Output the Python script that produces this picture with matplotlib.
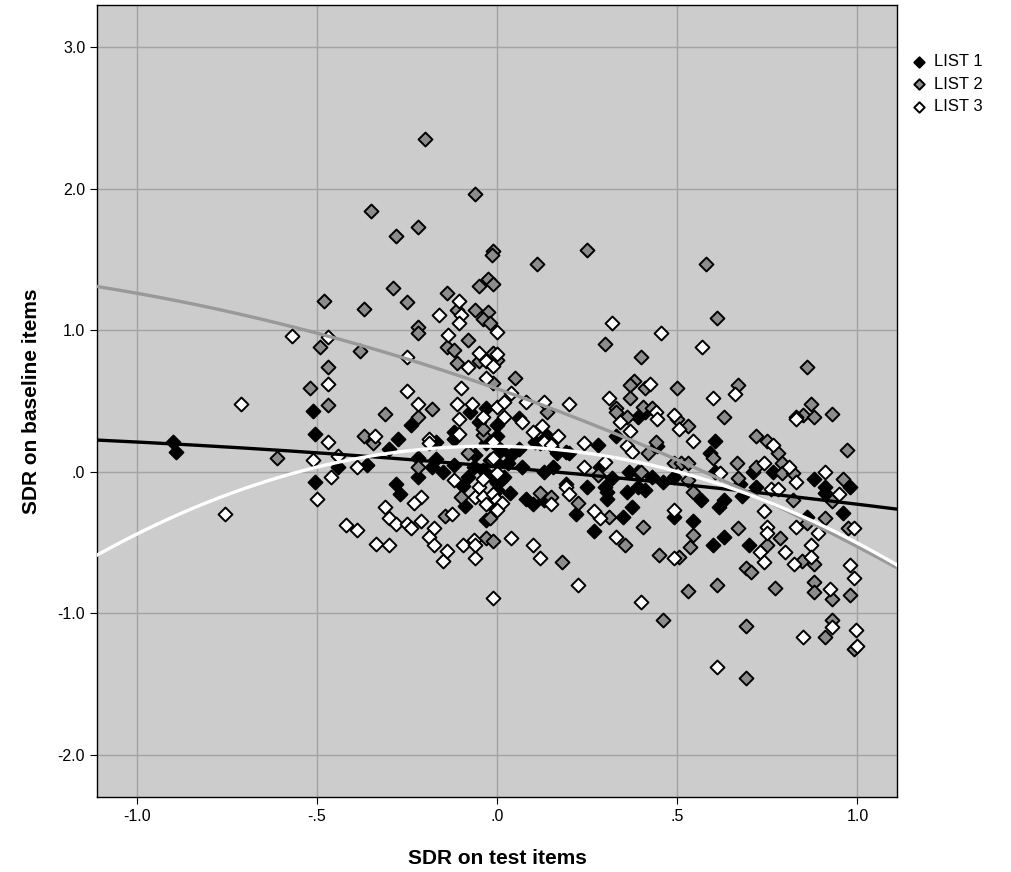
import numpy as np
import matplotlib
matplotlib.use("Agg")
import matplotlib.pyplot as plt

plt.rcParams['font.family'] = ['Liberation Sans', 'DejaVu Sans']

# LIST 1 (black)
list1 = [(-0.90, 0.21), (-0.89, 0.14),
         (-0.51, 0.43), (-0.505, 0.27), (-0.505, -0.07), (-0.44, 0.035), (-0.36, 0.05), (-0.275, 0.23),
         (-0.30, 0.16), (-0.24, 0.33), (-0.28, -0.085), (-0.27, -0.155), (-0.22, 0.10), (-0.22, -0.035),
         (-0.17, 0.09), (-0.18, 0.035), (-0.15, 0.0), (-0.17, 0.21), (-0.12, 0.23), (-0.12, 0.05),
         (-0.095, -0.10), (-0.09, -0.24), (-0.08, -0.04), (-0.075, 0.42), (-0.05, 0.35), (-0.03, -0.34),
         (-0.01, -0.25), (-0.04, 0.01), (-0.065, 0.03), (-0.02, 0.08), (-0.03, 0.20), (-0.12, 0.28),
         (-0.03, 0.45), (0.0, 0.33), (0.0, 0.25), (0.0, 0.06), (-0.015, -0.035), (0.0, -0.08), (0.03, 0.06),
         (0.02, -0.035), (0.07, 0.03), (0.13, 0.0), (0.155, 0.035), (0.19, 0.14), (0.20, 0.13), (0.105, 0.21),
         (0.14, 0.25), (0.12, 0.20), (0.165, 0.13), (0.28, 0.19), (0.33, 0.25), (0.285, 0.03), (0.30, -0.11),
         (0.305, -0.14), (0.305, -0.19), (0.25, -0.11), (0.19, -0.085), (0.08, -0.19), (0.10, -0.23),
         (0.13, -0.20), (0.22, -0.30), (0.27, -0.42), (0.35, -0.32), (0.375, -0.25), (0.36, -0.14),
         (0.39, -0.11), (0.39, 0.0), (0.43, -0.035), (0.365, 0.0), (0.445, 0.18), (0.46, -0.07), (0.49, -0.035),
         (0.49, -0.32), (0.41, -0.13), (0.39, 0.39), (0.32, -0.045), (0.035, -0.15), (0.01, -0.06), (0.0, -0.13),
         (0.41, 0.42), (0.06, 0.38), (0.01, 0.15), (0.04, 0.12), (-0.06, 0.12), (0.06, 0.16),
         (0.605, 0.22), (0.59, 0.13), (0.605, 0.0), (0.675, -0.085), (0.68, -0.17), (0.63, -0.20),
         (0.615, -0.25), (0.565, -0.20), (0.71, 0.0), (0.72, -0.11), (0.765, 0.0), (0.88, -0.05),
         (0.91, -0.105), (0.91, -0.15), (0.98, -0.11), (0.96, -0.29), (0.545, -0.35), (0.63, -0.46),
         (0.70, -0.52), (0.60, -0.52), (0.86, -0.32)]

# LIST 2 (gray)
list2 = [(-0.20, 2.35), (-0.06, 1.96), (-0.35, 1.84), (-0.22, 1.73), (-0.28, 1.67), (-0.01, 1.56),
         (-0.015, 1.53), (0.11, 1.47), (0.25, 1.57), (0.58, 1.47), (-0.025, 1.36), (-0.01, 1.33),
         (-0.05, 1.31), (-0.29, 1.30), (-0.48, 1.21), (-0.37, 1.15), (-0.25, 1.20), (-0.22, 1.02),
         (-0.22, 0.98), (-0.49, 0.88), (-0.38, 0.85), (-0.47, 0.74), (-0.52, 0.59), (-0.47, 0.47),
         (-0.31, 0.41), (-0.22, 0.39), (-0.18, 0.44), (-0.14, 1.26), (-0.14, 0.88), (-0.12, 0.86),
         (-0.11, 1.14), (-0.06, 1.14), (-0.025, 1.13), (-0.04, 1.08), (-0.08, 0.93), (-0.11, 0.77),
         (-0.02, 1.05), (-0.05, 0.78), (-0.01, 0.84), (0.0, 0.79), (-0.01, 0.63),
         (0.30, 0.90), (0.40, 0.81), (0.05, 0.66), (0.38, 0.64), (0.37, 0.61), (0.41, 0.59), (0.50, 0.59),
         (0.37, 0.52), (0.33, 0.45), (0.405, 0.46), (0.43, 0.45), (0.14, 0.42), (0.36, 0.39),
         (0.61, 1.09), (0.86, 0.74), (0.67, 0.61), (0.87, 0.48), (0.63, 0.39), (0.85, 0.40), (0.88, 0.39),
         (0.93, 0.41), (-0.61, 0.10), (-0.37, 0.25), (-0.345, 0.20), (-0.22, 0.035), (-0.10, -0.18),
         (-0.04, 0.26), (-0.04, 0.30), (-0.08, 0.13), (-0.145, -0.31), (-0.02, -0.33), (-0.03, -0.47),
         (-0.01, -0.49), (0.33, 0.42), (0.44, 0.21), (0.42, 0.13), (0.49, 0.06), (0.51, 0.06), (0.12, -0.15),
         (0.15, -0.18), (0.225, -0.22), (0.31, -0.32), (0.405, -0.39), (0.355, -0.52), (0.50, 0.37),
         (0.40, 0.0), (0.28, -0.02), (0.53, 0.32), (0.72, 0.25), (0.75, 0.22), (0.78, 0.13), (0.60, 0.10),
         (0.53, 0.06), (0.665, 0.06), (0.72, 0.03), (0.79, 0.06), (0.79, -0.01), (0.82, -0.01),
         (0.67, -0.045), (0.53, -0.06), (0.545, -0.14), (0.96, -0.05), (0.82, -0.20), (0.93, -0.21),
         (0.97, 0.15), (0.91, -0.33), (0.86, -0.36), (0.67, -0.40), (0.545, -0.45), (0.785, -0.47),
         (0.75, -0.52), (0.975, -0.40), (0.535, -0.53), (0.18, -0.64), (0.45, -0.59), (0.505, -0.60),
         (0.53, -0.84), (0.46, -1.05), (0.69, -0.68), (0.705, -0.71), (0.61, -0.80), (0.77, -0.82),
         (0.845, -0.63), (0.88, -0.65), (0.88, -0.78), (0.88, -0.85), (0.93, -0.90), (0.98, -0.87),
         (0.69, -1.09), (0.93, -1.05), (0.91, -1.17), (0.99, -1.25), (0.69, -1.46)]

# LIST 3 (white)
list3 = [(-0.71, 0.48), (-0.755, -0.30), (-0.57, 0.96),
         (-0.105, 1.21), (-0.16, 1.11), (-0.10, 1.11), (-0.105, 1.05), (-0.135, 0.97), (-0.05, 0.84),
         (0.0, 0.99), (-0.25, 0.81), (-0.47, 0.95), (-0.47, 0.62), (-0.25, 0.57), (-0.22, 0.48),
         (-0.11, 0.48), (-0.10, 0.59), (-0.08, 0.74), (-0.03, 0.78), (-0.01, 0.75), (-0.03, 0.66),
         (0.0, 0.46), (-0.07, 0.48), (0.32, 1.05), (0.455, 0.98), (0.0, 0.83), (0.04, 0.56), (0.02, 0.49),
         (0.08, 0.49), (0.13, 0.49), (0.20, 0.48), (0.31, 0.52), (0.425, 0.62), (0.44, 0.42), (0.49, 0.40),
         (0.02, 0.39), (0.57, 0.88), (0.66, 0.55), (0.60, 0.52), (0.83, 0.39),
         (-0.47, 0.21), (-0.51, 0.08), (-0.44, 0.11), (-0.46, -0.04), (-0.50, -0.19), (-0.39, 0.03),
         (-0.34, 0.25), (-0.19, 0.23), (-0.19, 0.20), (-0.12, -0.06), (-0.21, -0.18), (-0.23, -0.22),
         (-0.31, -0.25), (-0.30, -0.33), (-0.28, -0.37), (-0.25, -0.37), (-0.24, -0.40), (-0.21, -0.35),
         (-0.175, -0.40), (-0.42, -0.38), (-0.39, -0.41), (-0.125, -0.30), (-0.19, -0.46), (-0.175, -0.52),
         (-0.335, -0.51), (-0.30, -0.52), (-0.095, -0.52), (-0.065, -0.48), (-0.105, 0.37), (-0.105, 0.27),
         (-0.04, 0.39), (-0.06, -0.18), (-0.05, -0.11), (-0.04, -0.05), (-0.04, -0.18), (-0.03, -0.23),
         (-0.015, 0.08), (-0.01, -0.16), (-0.01, 0.21), (0.07, 0.35), (0.125, 0.32), (0.10, 0.28),
         (0.13, 0.21), (0.15, 0.19), (0.17, 0.25), (0.24, 0.20), (0.34, 0.35), (0.37, 0.29), (0.36, 0.18),
         (0.375, 0.14), (0.30, 0.07), (0.24, 0.03), (0.19, -0.11), (0.20, -0.16), (0.15, -0.23),
         (0.285, -0.33), (0.27, -0.28), (0.33, -0.46), (0.04, -0.47), (0.10, -0.52), (0.505, 0.30),
         (0.49, -0.27), (0.445, 0.37), (0.0, -0.20), (0.015, -0.22), (0.0, -0.27), (0.0, -0.01), (-0.01, 0.10),
         (0.545, 0.22), (0.62, -0.01), (0.765, 0.19), (0.74, 0.06), (0.81, 0.03), (0.83, -0.07), (0.91, 0.0),
         (0.76, -0.12), (0.78, -0.12), (0.95, -0.155), (0.74, -0.28), (0.83, -0.39), (0.75, -0.39),
         (0.75, -0.43), (0.89, -0.43), (0.99, -0.40), (0.87, -0.52), (0.83, 0.37),
         (-0.15, -0.63), (-0.14, -0.56), (-0.06, -0.61), (-0.06, -0.52), (-0.01, -0.89),
         (0.12, -0.61), (0.225, -0.80), (0.40, -0.92), (0.49, -0.61),
         (0.73, -0.57), (0.74, -0.64), (0.80, -0.57), (0.825, -0.65), (0.87, -0.60), (0.98, -0.66),
         (0.99, -0.75), (0.925, -0.83), (0.93, -1.10), (0.995, -1.12), (1.0, -1.23), (0.85, -1.17),
         (0.61, -1.38)]

# quadratic fit lines: a + b*x + c*x^2
fit1 = [0.035, -0.22, -0.045]
fit2 = [0.587, -0.896, -0.221]
fit3 = [0.18, -0.0315, -0.653]

labels = ['LIST 1', 'LIST 2', 'LIST 3']
xticks = [-1.0, -0.5, 0.0, 0.5, 1.0]
xticklabels = ['-1.0', '-.5', '.0', '.5', '1.0']
yticks = [3.0, 2.0, 1.0, 0.0, -1.0, -2.0]
yticklabels = ['3.0', '2.0', '1.0', '.0', '-1.0', '-2.0']

fig = plt.figure(figsize=(10.12, 8.72), dpi=100)
ax = fig.add_axes([0.0959, 0.086, 0.7905, 0.9083])
ax.set_facecolor('#cccccc')
ax.set_axisbelow(True)
ax.grid(True, color='#a3a3a3', linewidth=1)

fills = ['black', '#8c8c8c', 'white']
for pts, fc, lab in zip([list1, list2, list3], fills, labels):
    p = np.array(pts)
    ax.scatter(p[:, 0], p[:, 1], s=50, marker='D', facecolor=fc, edgecolor='black',
               linewidth=1.4, label=lab, zorder=3)

xs = np.linspace(-1.11, 1.11, 200)
for f, col in zip([fit1, fit2, fit3], ['black', '#999999', 'white']):
    ax.plot(xs, f[0] + f[1]*xs + f[2]*xs**2, color=col, linewidth=2.4, zorder=4)

ax.set_xlim(-1.11, 1.11)
ax.set_ylim(-2.3, 3.3)
ax.set_xticks(xticks)
ax.set_xticklabels(xticklabels)
ax.set_yticks(yticks)
ax.set_yticklabels(yticklabels)
ax.tick_params(labelsize=11.5, length=5, direction='out', colors='black')
for s in ax.spines.values():
    s.set_color('black')
    s.set_linewidth(1)

ax.set_xlabel('SDR on test items', fontsize=15, fontweight='bold', labelpad=18)
ax.set_ylabel('SDR on baseline items', fontsize=15, fontweight='bold', labelpad=12)

fig.legend(loc='upper left', bbox_to_anchor=(0.885, 0.955), frameon=False, fontsize=12,
           markerscale=0.75, handletextpad=0.4, labelspacing=0.45, handlelength=1.0)

fig.savefig('out.png', dpi=100)
